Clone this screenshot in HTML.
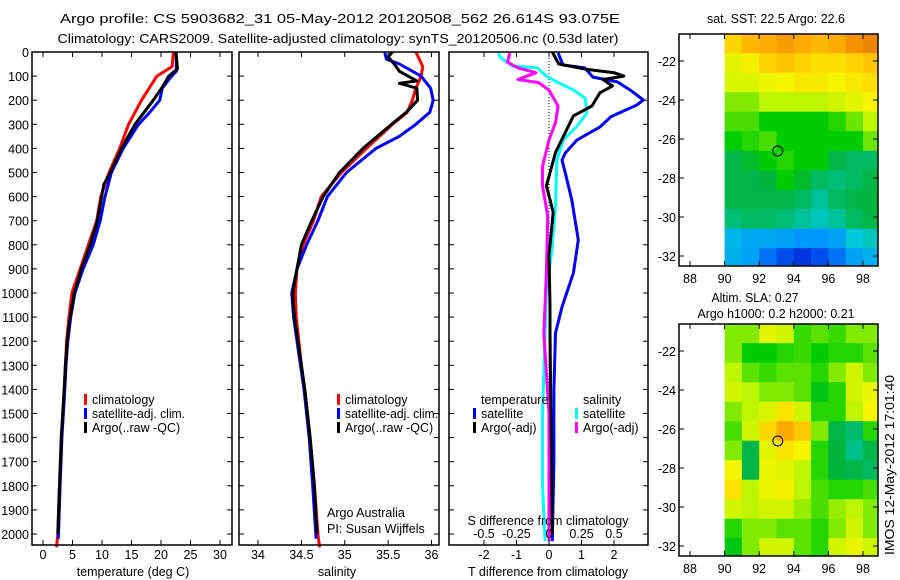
<!DOCTYPE html>
<html><head><meta charset="utf-8"><style>
html,body{margin:0;padding:0;background:#fff;width:900px;height:580px;overflow:hidden}
svg text{font-family:"Liberation Sans",sans-serif;font-size:12.5px;fill:#000}
</style></head><body>
<svg id="c" width="900" height="580" xmlns="http://www.w3.org/2000/svg">
<text x="340" y="23" text-anchor="middle" font-size="14" textLength="560" lengthAdjust="spacingAndGlyphs">Argo profile: CS 5903682_31 05-May-2012 20120508_562 26.614S 93.075E</text>
<text x="338" y="43" text-anchor="middle" font-size="14" textLength="561" lengthAdjust="spacingAndGlyphs">Climatology: CARS2009. Satellite-adjusted climatology: synTS_20120506.nc (0.53d later)</text>
<text x="776" y="23" text-anchor="middle" textLength="138" lengthAdjust="spacingAndGlyphs">sat. SST: 22.5 Argo: 22.6</text>
<text x="755" y="302" text-anchor="middle" textLength="87" lengthAdjust="spacingAndGlyphs">Altim. SLA: 0.27</text>
<text x="776" y="318" text-anchor="middle" textLength="157" lengthAdjust="spacingAndGlyphs">Argo h1000: 0.2 h2000: 0.21</text>
<text x="0" y="0" transform="translate(894,465) rotate(-90)" text-anchor="middle" textLength="180" lengthAdjust="spacingAndGlyphs">IMOS 12-May-2012 17:01:40</text>
</svg>
<script>
// ---------- data ----------
const depthTicks=[0,100,200,300,400,500,600,700,800,900,1000,1100,1200,1300,1400,1500,1600,1700,1800,1900,2000];
const tempTicks=[0,5,10,15,20,25,30];
const salTicks=[34,34.5,35,35.5,36];
const tdTicks=[-2,-1,0,1,2];
const sdTickLabels=[-0.5,-0.25,0,0.25,0.5];
const tClimD=[0,60,100,200,300,400,500,600,700,800,900,1000,1100,1200,1300,1400,1600,1800,2000,2055];
const tClimV=[22.1,21.9,19.3,16.7,14.5,13,11.2,9.8,9.1,7.7,6.3,4.9,4.4,4.0,3.8,3.6,3.1,2.8,2.5,2.3];
const tSatD=[0,80,100,150,200,250,300,400,500,600,700,800,900,1000,1100,1200,1300,1400,1600,1800,2020];
const tSatV=[22.6,22.6,21.8,20.2,19.8,18.1,16.2,13.6,11.6,10.5,9.7,8.5,6.8,5.4,4.7,4.2,3.9,3.7,3.2,2.9,2.6];
const tArgD=[0,70,100,150,200,300,400,500,550,700,800,900,1000,1100,1200,1300,1400,1600,1800,2000];
const tArgV=[22.5,22.8,21.3,20.1,18.7,15.6,13.3,11.4,10.3,9.2,8.0,6.5,5.3,4.6,4.1,3.8,3.6,3.1,2.8,2.5];
const sClimD=[0,60,100,150,200,250,300,400,500,600,700,800,900,1000,1100,1200,1300,1400,1600,1800,2000,2055];
const sClimV=[35.82,35.9,35.88,35.82,35.78,35.72,35.55,35.25,34.96,34.73,34.64,34.52,34.45,34.43,34.44,34.47,34.5,34.54,34.6,34.65,34.69,34.71];
const sSatD=[0,30,50,100,150,200,250,300,350,400,500,600,700,800,900,1000,1100,1200,1300,1400,1600,1800,2020];
const sSatV=[35.46,35.48,35.63,35.88,35.99,36.02,35.98,35.82,35.63,35.36,35.02,34.8,34.69,34.56,34.45,34.39,34.41,34.45,34.49,34.53,34.59,34.63,34.67];
const sArgD=[0,20,50,80,120,130,150,200,250,300,400,500,600,700,800,900,1000,1100,1200,1300,1400,1600,1800,2000];
const sArgV=[35.55,35.5,35.57,35.63,35.83,35.63,35.83,35.84,35.71,35.54,35.21,34.94,34.75,34.62,34.5,34.45,34.4,34.42,34.46,34.5,34.54,34.6,34.65,34.68];
const dtSatD=[4,54,66,104,124,158,199,220,269,311,365,419,448,502,614,780,917,1058,1166,1400,1700,2030];
const dtSatV=[0.28,0.43,1.1,1.35,2.1,2.5,2.9,2.7,1.9,1.57,0.86,0.5,0.4,0.5,0.7,0.9,0.75,0.4,0.2,0.15,0.15,0.1];
const dtArgD=[0,50,72,86,100,114,141,169,224,265,334,417,555,665,845,1052,1163,1400,1700,2000];
const dtArgV=[0.1,0.3,1.17,2.0,2.3,1.66,1.95,1.57,1.32,0.75,0.5,0.2,-0.08,0.13,0,0.03,0.03,0.05,0.08,0.1];
const dsSatD=[4,25,58,66,100,124,158,193,255,311,365,448,641,835,987,1166,1500,1800,2030];
const dsSatV=[-0.39,-0.37,-0.28,-0.09,-0.02,0.06,0.19,0.28,0.29,0.21,0.11,0.06,0.05,0.02,-0.02,-0.03,-0.05,-0.05,-0.03];
const dsArgD=[4,42,66,86,114,127,158,224,293,365,475,555,680,917,1166,1500,1800,2030];
const dsArgV=[-0.3,-0.32,-0.24,-0.1,-0.24,-0.08,0,0.07,0.05,0,-0.05,-0.05,-0.01,-0.02,-0.04,0,0,0];
const lonTicks=[88,90,92,94,96,98];
const latTicks=[-22,-24,-26,-28,-30,-32];
const mapLons=[90,91,92,93,94,95,96,97,98];
const mapLats=[-20.6,-21.6,-22.6,-23.6,-24.6,-25.6,-26.6,-27.6,-28.6,-29.6,-30.6,-31.6];
const sstGrid=[
[0.72,0.76,0.78,0.8,0.78,0.76,0.78,0.82,0.84],
[0.64,0.67,0.72,0.74,0.72,0.7,0.7,0.72,0.74],
[0.63,0.63,0.65,0.66,0.68,0.68,0.66,0.68,0.7],
[0.57,0.57,0.6,0.6,0.6,0.6,0.62,0.64,0.66],
[0.54,0.54,0.5,0.5,0.5,0.5,0.52,0.56,0.6],
[0.5,0.52,0.54,0.5,0.5,0.5,0.5,0.5,0.56],
[0.46,0.48,0.5,0.52,0.5,0.5,0.46,0.44,0.44],
[0.46,0.46,0.47,0.5,0.48,0.44,0.42,0.44,0.46],
[0.46,0.46,0.46,0.46,0.44,0.4,0.44,0.46,0.47],
[0.42,0.44,0.44,0.42,0.4,0.38,0.4,0.44,0.46],
[0.33,0.31,0.31,0.3,0.28,0.28,0.3,0.36,0.38],
[0.32,0.3,0.24,0.2,0.16,0.2,0.24,0.3,0.32]];
const slaGrid=[
[0.57,0.57,0.64,0.62,0.53,0.55,0.53,0.57,0.57],
[0.57,0.5,0.5,0.52,0.53,0.5,0.52,0.52,0.55],
[0.6,0.55,0.53,0.55,0.55,0.52,0.57,0.62,0.57],
[0.62,0.6,0.57,0.57,0.55,0.49,0.52,0.62,0.65],
[0.57,0.6,0.63,0.69,0.62,0.52,0.52,0.6,0.66],
[0.54,0.62,0.71,0.78,0.73,0.57,0.46,0.43,0.52],
[0.57,0.46,0.64,0.69,0.66,0.52,0.47,0.41,0.46],
[0.66,0.46,0.65,0.64,0.6,0.52,0.47,0.46,0.44],
[0.69,0.6,0.65,0.67,0.6,0.54,0.52,0.52,0.54],
[0.62,0.6,0.62,0.62,0.58,0.54,0.58,0.6,0.57],
[0.52,0.57,0.57,0.55,0.55,0.52,0.57,0.62,0.57],
[0.49,0.57,0.62,0.62,0.55,0.52,0.62,0.65,0.62]];
const floatLon=93.075, floatLat=-26.614;

// ---------- helpers ----------
const NS='http://www.w3.org/2000/svg', svg=document.getElementById('c');
function mk(tag,at,parent){const e=document.createElementNS(NS,tag);for(const k in at)e.setAttribute(k,at[k]);(parent||svg).appendChild(e);return e;}
const TOP=52,BOT=545;
const yD=d=>TOP+d*0.241;
function lin(d0,d1,p0,p1){return v=>p0+(v-d0)*(p1-p0)/(d1-d0);}
function frame(x0,x1,y0,y1,name){
  const r=mk('rect',{x:x0,y:y0,width:x1-x0,height:y1-y0,fill:'none',stroke:'#000','stroke-width':1.5});
  
  
}
function tickX(sx,vals,labels,x0,x1,y0,y1,ly,name){
  vals.forEach((v,i)=>{const x=sx(v);
    mk('line',{x1:x,x2:x,y1:y0,y2:y0-5,stroke:'#000'});
    mk('line',{x1:x,x2:x,y1:y1,y2:y1+5,stroke:'#000'});
    if(labels){const t=mk('text',{x:x,y:ly,'text-anchor':'middle'});t.textContent=labels[i];
      
      }
  });
}
function tickY(sy,vals,labels,x0,x1,lx,name){
  vals.forEach((v,i)=>{const y=sy(v);
    mk('line',{x1:x0,x2:x0+5,y1:y,y2:y,stroke:'#000'});
    mk('line',{x1:x1,x2:x1-5,y1:y,y2:y,stroke:'#000'});
    if(labels){const t=mk('text',{x:lx,y:y+5,'text-anchor':'end'});t.textContent=labels[i];
      
      }
  });
}
function line(sx,D,V,col,name){
  const p=D.map((d,i)=>sx(V[i]).toFixed(1)+','+yD(d).toFixed(1)).join(' ');
  const e=mk('polyline',{points:p,fill:'none',stroke:col,'stroke-width':3,'stroke-linejoin':'round'});
  
  
}
function legend(x,y,col,txt,name,len){
  mk('rect',{x:x-8,y:y-10,width:3,height:11,fill:col});
  const t=mk('text',{x:x,y:y});t.textContent=txt;
  if(len){t.setAttribute('textLength',len);t.setAttribute('lengthAdjust','spacingAndGlyphs');}
  
  
}
function label(x,y,txt,name,anchor){
  const t=mk('text',{x:x,y:y,'text-anchor':anchor||'middle'});t.textContent=txt;
  
  
}
const cmapStops=[[0,[0,0,150]],[0.18,[0,60,230]],[0.28,[0,150,255]],[0.36,[0,200,220]],[0.42,[0,190,120]],[0.47,[0,180,60]],[0.5,[0,205,0]],[0.55,[90,225,0]],[0.6,[190,245,0]],[0.66,[245,245,0]],[0.72,[255,210,0]],[0.78,[255,170,0]],[0.86,[230,120,0]],[1,[200,60,0]]];
function cmap(v){v=Math.max(0,Math.min(1,v));
  for(let i=1;i<cmapStops.length;i++){const [a,ca]=cmapStops[i-1],[b,cb]=cmapStops[i];
    if(v<=b){const t=(v-a)/(b-a);return 'rgb('+ca.map((c,k)=>Math.round(c+(cb[k]-c)*t)).join(',')+')';}}
  return 'rgb(200,60,0)';}

// ---------- panel 1: temperature ----------
{const x0=32,x1=232,sx=lin(0,30,43,220);
 line(sx,tClimD,tClimV,'#f00','temp-climatology-line');
 line(sx,tSatD,tSatV,'#00f','temp-satellite-line');
 line(sx,tArgD,tArgV,'#000','temp-argo-line');
 frame(x0,x1,TOP,BOT,'temperature-panel');
 tickX(sx,tempTicks,tempTicks,x0,x1,BOT,TOP,559,'temp-x-tick-label');
 tickY(yD,depthTicks,depthTicks,x0,x1,29,'depth-tick-label');
 label(133,576,'temperature (deg C)','temp-x-axis-title');
 legend(92,404,'#f00','climatology','legend-climatology');
 legend(92,418,'#00f','satellite-adj. clim.','legend-satellite',93);
 legend(92,432,'#000','Argo(..raw -QC)','legend-argo');}
// ---------- panel 2: salinity ----------
{const x0=239,x1=439,sx=lin(34,36,258,431.5);
 line(sx,sClimD,sClimV,'#f00','sal-climatology-line');
 line(sx,sSatD,sSatV,'#00f','sal-satellite-line');
 line(sx,sArgD,sArgV,'#000','sal-argo-line');
 frame(x0,x1,TOP,BOT,'salinity-panel');
 tickX(sx,salTicks,salTicks,x0,x1,BOT,TOP,559,'sal-x-tick-label');
 tickY(yD,depthTicks,null,x0,x1,0,'');
 label(337,576,'salinity','sal-x-axis-title');
 legend(345,404,'#f00','climatology','legend-sal-climatology');
 legend(345,418,'#00f','satellite-adj. clim.','legend-sal-satellite',93);
 legend(345,432,'#000','Argo(..raw -QC)','legend-sal-argo');
 label(327,517,'Argo Australia','credit-line-1','start');
 label(327,533,'PI: Susan Wijffels','credit-line-2','start');}
// ---------- panel 3: differences ----------
{const x0=449,x1=648,sx=lin(0,1,549,581.5),ss=lin(0,1,549,679);
 const z=mk('line',{x1:549,x2:549,y1:TOP,y2:BOT,stroke:'#000','stroke-dasharray':'1,2'});
 
 
 line(ss,dsSatD,dsSatV,'#0ff','sal-diff-satellite-line');
 line(ss,dsArgD,dsArgV,'#f0f','sal-diff-argo-line');
 line(sx,dtSatD,dtSatV,'#00f','temp-diff-satellite-line');
 line(sx,dtArgD,dtArgV,'#000','temp-diff-argo-line');
 frame(x0,x1,TOP,BOT,'difference-panel');
 tickX(sx,tdTicks,tdTicks,x0,x1,BOT,TOP,559,'tdiff-x-tick-label');
 tickY(yD,depthTicks,null,x0,x1,0,'');
 sdTickLabels.forEach(v=>label(ss(v),538,String(v),'sdiff-tick-label'));
 label(548,525,'S difference from climatology','sdiff-axis-title');
 label(548,576,'T difference from climatology','tdiff-x-axis-title');
 label(481,404,'temperature','legend-temperature-heading','start');
 label(583,404,'salinity','legend-salinity-heading','start');
 legend(481,418,'#00f','satellite','legend-tdiff-satellite');
 legend(481,432,'#000','Argo(-adj)','legend-tdiff-argo');
 legend(583,418,'#0ff','satellite','legend-sdiff-satellite');
 legend(583,432,'#f0f','Argo(-adj)','legend-sdiff-argo');}
// ---------- maps ----------
function map(y0,y1,grid,name){
  const x0=679,x1=878,sx=lin(88,98,690,863),sy=lin(-22,-32,y0+27,y0+222);
  mapLons.forEach((lo,i)=>mapLats.forEach((la,j)=>{
    const xa=sx(lo),xb=Math.min(x1,sx(lo+1)),ya=Math.max(y0,sy(la)),yb=Math.min(y1,sy(la-1));
    const c=mk('rect',{x:xa,y:ya,width:xb-xa+0.5,height:yb-ya+0.5,fill:cmap(grid[j][i])});
    
    
  }));
  const ci=mk('circle',{cx:sx(floatLon),cy:sy(floatLat),r:5,fill:'none',stroke:'#000','stroke-width':1});
  
  
  frame(x0,x1,y0,y1,name);
  tickX(sx,lonTicks,lonTicks,x0,x1,y1,y0,y1+17,'lon-tick-label');
  tickY(sy,latTicks,latTicks,x0,x1,x0-3,'lat-tick-label');
}
map(34,266,sstGrid,'sst-map');
map(324,556,slaGrid,'sla-map');
</script>
</body></html>
